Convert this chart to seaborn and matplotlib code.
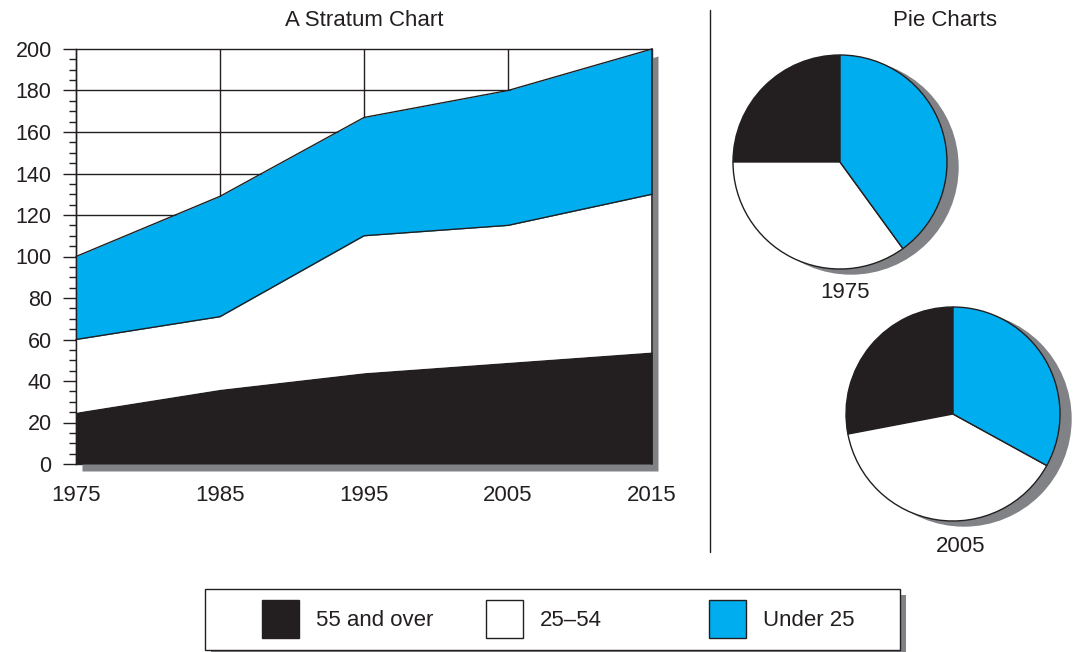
import numpy as np
import pandas as pd
import seaborn as sns
import matplotlib.pyplot as plt
from matplotlib.patches import Rectangle, Circle
from matplotlib.transforms import offset_copy
from matplotlib.ticker import MultipleLocator

# data
years = [1975, 1985, 1995, 2005, 2015]
over_55 = [25, 36, 44, 49, 54]
age_25_54 = [35, 35, 66, 66, 76]
under_25 = [40, 58, 57, 65, 70]
group_labels = ["55 and over", "25\u201354", "Under 25"]
pie_years = [1975, 2005]
pie_1975 = [25, 35, 40]   # shares in %, same order as group_labels
pie_2005 = [28, 39, 33]

INK = "#231f20"
BLUE = "#00aeef"
GRAY = "#808285"
colors = [INK, "#ffffff", BLUE]

sns.set_theme(style="white")
plt.rcParams["font.family"] = ["Liberation Sans", "DejaVu Sans"]
plt.rcParams["text.color"] = INK
plt.rcParams["xtick.color"] = INK
plt.rcParams["ytick.color"] = INK

W, H = 1073, 652
fig = plt.figure(figsize=(W / 100, H / 100), dpi=100)


def box(l, t, r, b):
    # pixel box -> figure fraction
    return [l / W, 1 - b / H, (r - l) / W, (b - t) / H]


# ---- stratum chart ----
df = pd.DataFrame({"year": years, "over_55": over_55,
                   "age_25_54": age_25_54, "under_25": under_25})
df["mid"] = df.over_55 + df.age_25_54
df["top"] = df.mid + df.under_25

ax = fig.add_axes(box(76, 49, 652, 464))
shadow = offset_copy(ax.transData, fig=fig, x=6, y=-7, units="dots")
ax.fill_between(df.year, 0, df.top, color=GRAY, lw=0, transform=shadow,
                zorder=1, clip_on=False)
ax.fill_between(df.year, 0, df.over_55, color=colors[0], lw=0, zorder=2)
ax.fill_between(df.year, df.over_55, df.mid, color=colors[1], lw=0, zorder=2)
ax.fill_between(df.year, df.mid, df.top, color=colors[2], lw=0, zorder=2)
for col in ["mid", "top"]:
    sns.lineplot(data=df, x="year", y=col, color=INK, lw=1, ax=ax, zorder=3)
ax.plot([years[-1], years[-1]], [0, df.top.iloc[-1]], color=INK, lw=1.2,
        zorder=3, clip_on=False)
for l in ax.lines:
    l.set_clip_on(False)

ax.set_xlim(years[0], years[-1])
ax.set_ylim(0, 200)
ax.set_xticks(years)
ax.yaxis.set_major_locator(MultipleLocator(20))
ax.yaxis.set_minor_locator(MultipleLocator(5))
ax.set_xlabel("")
ax.set_ylabel("")
ax.grid(True, which="major", color=INK, lw=1)
ax.set_axisbelow(True)
for gl in ax.get_ygridlines() + ax.get_xgridlines():
    gl.set_clip_on(False)
for s in ["top", "right", "bottom"]:
    ax.spines[s].set_visible(False)
ax.spines["left"].set_color(INK)
ax.spines["left"].set_linewidth(1)
ax.spines["left"].set_zorder(4)
ax.tick_params(axis="x", length=0, pad=15, labelsize=16)
ax.tick_params(axis="y", which="major", left=True, length=9.5, width=1,
               direction="out", pad=8, labelsize=15.5)
ax.tick_params(axis="y", which="minor", left=True, length=5, width=1,
               direction="out")
fig.text(364 / W, 1 - 20 / H, "A Stratum Chart", ha="center", va="center",
         fontsize=16)

# separator
fig.add_artist(plt.Line2D([710 / W, 710 / W], [1 - 10 / H, 1 - 552 / H],
                          color=INK, lw=1))

# ---- pie charts ----
fig.text(945 / W, 1 - 20 / H, "Pie Charts", ha="center", va="center",
         fontsize=16)
centers = [(840, 162), (953, 414)]
label_pos = [(845, 293), (961, 547)]
R, L = 107, 135
for yr, vals, (cx, cy), (tx, ty) in zip(pie_years, [pie_1975, pie_2005],
                                        centers, label_pos):
    pax = fig.add_axes(box(cx - L, cy - L, cx + L, cy + L))
    sh = offset_copy(pax.transData, fig=fig, x=11, y=-5, units="dots")
    pax.add_patch(Circle((0, 0), 1, color=GRAY, transform=sh, zorder=0,
                         clip_on=False))
    pax.pie(vals, colors=colors, startangle=90, counterclock=True,
            wedgeprops={"edgecolor": INK, "linewidth": 1})
    pax.set_xlim(-L / R, L / R)
    pax.set_ylim(-L / R, L / R)
    pax.axis("off")
    fig.text(tx / W, 1 - ty / H, str(yr), ha="center", va="center",
             fontsize=16)

# ---- legend box ----
lax = fig.add_axes(box(205, 589, 900, 650))
lax.set_xlim(205, 900)
lax.set_ylim(650, 589)
lax.axis("off")
lax.add_patch(Rectangle((211, 595), 695, 61, fc=GRAY, ec="none",
                        clip_on=False, zorder=0))
lax.add_patch(Rectangle((205, 589), 695, 61, fc="white", ec=INK, lw=1,
                        clip_on=False, zorder=1))
for k, (lab, c) in enumerate(zip(group_labels, colors)):
    x0 = 262 + k * 223.5
    lax.add_patch(Rectangle((x0, 600), 37, 38, fc=c, ec=INK, lw=1, zorder=2))
    lax.text(x0 + 54, 620, lab, ha="left", va="center", fontsize=16, zorder=3)

fig.savefig("out.png", dpi=100)
